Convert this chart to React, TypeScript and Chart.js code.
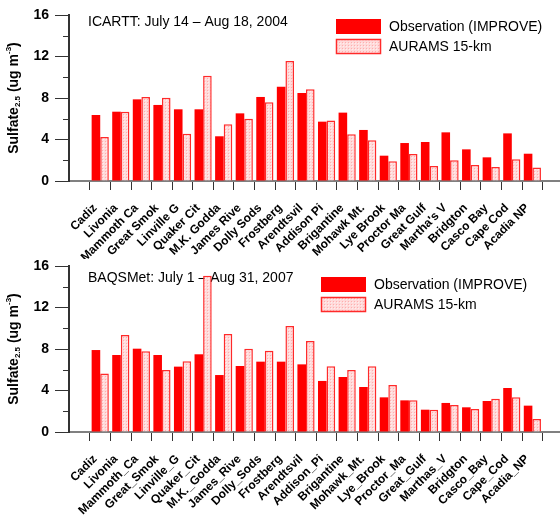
import React, { useEffect, useRef } from "react";
import { Chart, registerables } from "chart.js";
Chart.register(...registerables);

const sites2004 = ["Cadiz", "Livonia", "Mammoth Ca", "Great Smok", "Linville G", "Quaker Cit", "M.K. Godda", "James Rive", "Dolly Sods", "Frostberg", "Arendtsvil", "Addison Pi", "Brigantine", "Mohawk Mt.", "Lye Brook", "Proctor Ma", "Great Gulf", "Martha's V", "Bridgton", "Casco Bay", "Cape Cod", "Acadia NP"];
const sites2007 = ["Cadiz", "Livonia", "Mammoth_Ca", "Great_Smok", "Linville_G", "Quaker_Cit", "M.K._Godda", "James_Rive", "Dolly_Sods", "Frostberg", "Arendtsvil", "Addison_Pi", "Brigantine", "Mohawk_Mt.", "Lye_Brook", "Proctor_Ma", "Great_Gulf", "Marthas_V", "Bridgton", "Casco_Bay", "Cape_Cod", "Acadia_NP"];

const obs2004 = [6.36, 6.68, 7.87, 7.33, 6.91, 6.91, 4.31, 6.52, 8.10, 9.09, 8.48, 5.72, 6.59, 4.92, 2.44, 3.66, 3.76, 4.69, 3.05, 2.28, 4.59, 2.63];
const mod2004 = [4.24, 6.68, 8.10, 8.03, 4.56, 10.15, 5.46, 6.01, 7.58, 11.57, 8.84, 5.82, 4.50, 3.92, 1.90, 2.60, 1.45, 1.99, 1.54, 1.35, 2.09, 1.29];
const obs2007 = [7.90, 7.42, 8.03, 7.42, 6.30, 7.49, 5.49, 6.36, 6.78, 6.78, 6.52, 4.92, 5.30, 4.34, 3.34, 3.05, 2.15, 2.80, 2.38, 2.99, 4.24, 2.54];
const mod2007 = [5.65, 9.35, 7.78, 5.98, 6.81, 15.07, 9.45, 8.03, 7.84, 10.22, 8.77, 6.33, 5.98, 6.33, 4.53, 3.05, 2.15, 2.60, 2.22, 3.21, 3.34, 1.25];

const majorYTicks = [0, 4, 8, 12, 16];
const minorYTicks = [2, 6, 10, 14];
const legendLabels = ["Observation (IMPROVE)", "AURAMS 15-km"];
const title2004 = "ICARTT: July 14 \u2013 Aug 18, 2004";
const title2007 = "BAQSMet: July 1 \u2013 Aug 31, 2007";

const FONT = '"Liberation Sans", Arial, Helvetica, sans-serif';

function makePattern(ctx: CanvasRenderingContext2D) {
  const c = document.createElement("canvas");
  c.width = 3;
  c.height = 3;
  const p = c.getContext("2d")!;
  p.fillStyle = "#FFDADA";
  p.fillRect(0, 0, 3, 3);
  p.fillStyle = "#FFAEAE";
  p.fillRect(0, 0, 1, 1);
  p.fillStyle = "#FFEEEE";
  p.fillRect(1, 1, 1, 1);
  return ctx.createPattern(c, "repeat")!;
}

type Props = {
  sites: string[];
  obs: number[];
  mod: number[];
  title: string;
  height: number;
  padTop: number;
  xAxisHeight: number;
  titleX: number;
  titleY: number;
  legendX: number;
  legendY: number;
};

function SulfateChart(props: Props) {
  const ref = useRef<HTMLCanvasElement>(null);
  useEffect(() => {
    const canvas = ref.current!;
    const ctx0 = canvas.getContext("2d")!;
    const pattern = makePattern(ctx0);
    const { sites, obs, mod } = props;

    const decor = {
      id: "decor",
      beforeDatasetsDraw(chart: any) {
        const ctx = chart.ctx;
        ctx.save();
        ctx.fillStyle = "#000";
        ctx.font = `14px ${FONT}`;
        ctx.textAlign = "left";
        ctx.textBaseline = "middle";
        ctx.fillText(props.title, props.titleX, props.titleY);
        ctx.restore();
      },
      afterDraw(chart: any) {
        const ctx = chart.ctx;
        const area = chart.chartArea;
        const y = chart.scales.y;
        ctx.save();
        // minor y ticks
        ctx.strokeStyle = "#333";
        ctx.lineWidth = 1;
        for (const v of minorYTicks) {
          const py = Math.round(y.getPixelForValue(v)) + 0.5;
          ctx.beginPath();
          ctx.moveTo(area.left - 6, py);
          ctx.lineTo(area.left, py);
          ctx.stroke();
        }
        // legend
        const bx = props.legendX;
        const by = props.legendY;
        ctx.fillStyle = "#FF0000";
        ctx.fillRect(bx, by, 45, 15);
        ctx.fillStyle = pattern;
        ctx.fillRect(bx, by + 20, 45, 15);
        ctx.strokeStyle = "#FF2A2A";
        ctx.lineWidth = 1.5;
        ctx.strokeRect(bx + 0.5, by + 20.5, 44, 14);
        ctx.fillStyle = "#000";
        ctx.font = `14px ${FONT}`;
        ctx.textAlign = "left";
        ctx.textBaseline = "middle";
        ctx.fillText(legendLabels[0], bx + 53, by + 8);
        ctx.fillText(legendLabels[1], bx + 53, by + 28);
        // y axis title with sub/superscript
        const cy = (area.top + area.bottom) / 2;
        ctx.translate(14, cy);
        ctx.rotate(-Math.PI / 2);
        const big = `bold 14px ${FONT}`;
        const small = `bold 8px ${FONT}`;
        const parts: [string, string, number][] = [
          ["Sulfate", big, 0],
          ["2.5", small, 4],
          [" (ug m", big, 0],
          ["-3", small, -5],
          [")", big, 0],
        ];
        let total = 0;
        for (const [t, f] of parts) {
          ctx.font = f;
          total += ctx.measureText(t).width;
        }
        let x = -total / 2;
        ctx.textBaseline = "middle";
        for (const [t, f, dy] of parts) {
          ctx.font = f;
          ctx.fillText(t, x, dy);
          x += ctx.measureText(t).width;
        }
        ctx.restore();
      },
    };

    const chart = new Chart(canvas, {
      type: "bar",
      data: {
        datasets: [
          {
            label: legendLabels[0],
            data: obs.map((v, i) => ({ x: i, y: v })),
            backgroundColor: "#FF0000",
            borderWidth: 0,
          },
          {
            label: legendLabels[1],
            data: mod.map((v, i) => ({ x: i, y: v })),
            backgroundColor: pattern as any,
            borderColor: "#FF2A2A",
            borderWidth: 1.5,
            borderSkipped: "bottom",
          },
        ],
      },
      options: {
        responsive: false,
        animation: false,
        devicePixelRatio: 1,
        layout: { padding: { top: props.padTop, left: 0, right: 0, bottom: 0 } },
        categoryPercentage: 0.835,
        barPercentage: 1,
        plugins: {
          legend: { display: false },
          tooltip: { enabled: false },
        },
        scales: {
          x: {
            type: "linear",
            min: -0.975,
            max: 21.8,
            afterBuildTicks(scale: any) {
              scale.ticks = sites.map((_, i) => ({ value: i }));
            },
            afterFit(scale: any) {
              scale.height = props.xAxisHeight;
              scale.paddingLeft = 0;
              scale.paddingRight = 0;
            },
            ticks: {
              autoSkip: false,
              minRotation: 45,
              maxRotation: 45,
              padding: 11,
              labelOffset: -5,
              color: "#000",
              font: { family: FONT, size: 12, weight: "bold" },
              callback: (v: any) => sites[v] ?? "",
            },
            grid: {
              display: true,
              drawOnChartArea: false,
              drawTicks: true,
              tickLength: 9,
              tickColor: "#333",
              tickWidth: 1,
            },
            border: { display: true, color: "#808080", width: 2 },
          },
          y: {
            min: 0,
            max: 16,
            afterBuildTicks(scale: any) {
              scale.ticks = majorYTicks.map((v) => ({ value: v }));
            },
            afterFit(scale: any) {
              scale.width = 69;
              scale.paddingTop = 0;
              scale.paddingBottom = 0;
            },
            ticks: {
              padding: 6,
              color: "#000",
              font: { family: FONT, size: 14, weight: "bold" },
            },
            grid: {
              display: true,
              drawOnChartArea: false,
              drawTicks: true,
              tickLength: 14,
              tickColor: "#333",
              tickWidth: 1,
            },
            border: { display: true, color: "#333", width: 2 },
          },
        },
      } as any,
      plugins: [decor],
    });
    return () => chart.destroy();
  }, []);
  return (
    <canvas
      ref={ref}
      width={560}
      height={props.height}
      style={{ display: "block", width: 560, height: props.height }}
    />
  );
}

export default function App() {
  return (
    <div
      style={{
        position: "absolute",
        left: 0,
        top: 0,
        width: 560,
        height: 524,
        background: "#fff",
        overflow: "hidden",
      }}
    >
      <SulfateChart
        sites={sites2004}
        obs={obs2004}
        mod={mod2004}
        title={title2004}
        height={259}
        padTop={15}
        xAxisHeight={78}
        titleX={88}
        titleY={22}
        legendX={336}
        legendY={19}
      />
      <SulfateChart
        sites={sites2007}
        obs={obs2007}
        mod={mod2007}
        title={title2007}
        height={265}
        padTop={7}
        xAxisHeight={92}
        titleX={88}
        titleY={19}
        legendX={321}
        legendY={18}
      />
    </div>
  );
}
